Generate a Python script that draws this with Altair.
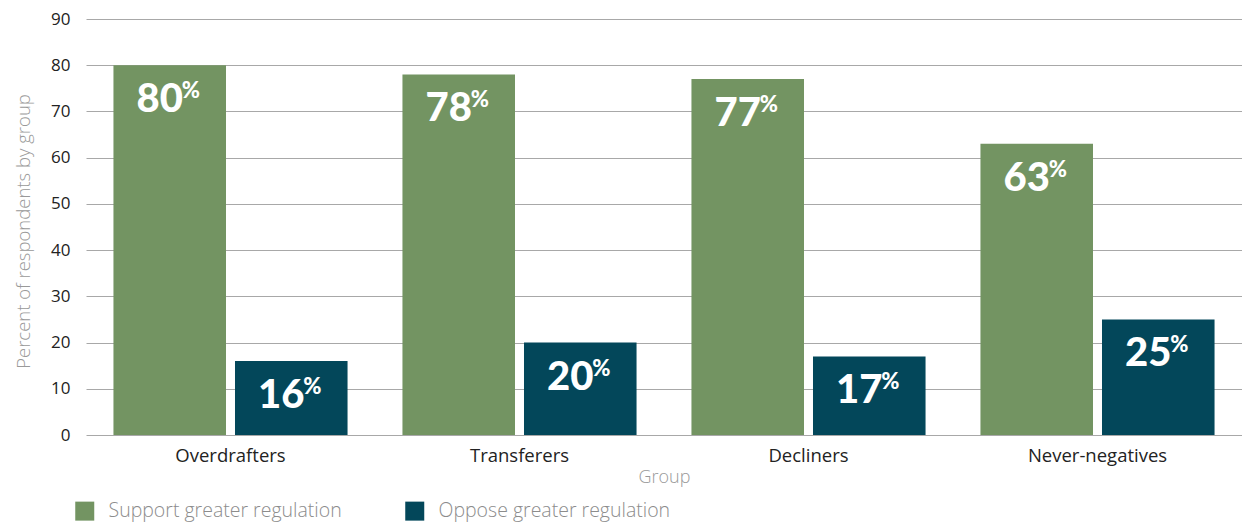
import altair as alt
import pandas as pd

groups = ["Overdrafters", "Transferers", "Decliners", "Never-negatives"]
series = ["Support greater regulation", "Oppose greater regulation"]
support = [80, 78, 77, 63]
oppose = [16, 20, 17, 25]
colors = ["#739462", "#03475A"]
y_ticks = [0, 10, 20, 30, 40, 50, 60, 70, 80, 90]

rows = []
for g, s, o in zip(groups, support, oppose):
    rows.append({"group": g, "series": series[0], "value": s, "label": str(s)})
    rows.append({"group": g, "series": series[1], "value": o, "label": str(o)})
df = pd.DataFrame(rows)

FONT = "Open Sans"
NUMFONT = "Lato"

x = alt.X(
    "group:N",
    sort=groups,
    scale=alt.Scale(paddingInner=0.19, paddingOuter=0.095),
    axis=alt.Axis(
        title="Group", labelAngle=0, labelFontSize=18.5, labelColor="#222222",
        labelFontWeight="normal",
        labelPadding=11, labelFont=FONT, titleFont=FONT, titleFontSize=18,
        titleColor="#999999", titleFontWeight=300, titleY=42,
        titleBaseline="middle", domain=False, ticks=False, grid=False,
    ),
)
xo = alt.XOffset("series:N", sort=series,
                 scale=alt.Scale(paddingInner=0.074, paddingOuter=0))
y = alt.Y(
    "value:Q",
    scale=alt.Scale(domain=[0, 90], nice=False),
    axis=alt.Axis(
        values=y_ticks, title="Percent of respondents by group",
        labelFontSize=17, labelColor="#222222", labelFont=FONT, labelPadding=16,
        labelFontWeight="normal",
        titleFont=FONT, titleFontSize=18.5, titleColor="#999999",
        titleFontWeight=300, titleX=-63, titleY=212, titleAngle=-90,
        titleAlign="center", titleBaseline="middle",
        domain=False, ticks=False, grid=True, gridColor="#a8a8a8", gridWidth=1,
    ),
)

color = alt.Color(
    "series:N", sort=series,
    scale=alt.Scale(domain=series, range=colors),
    legend=alt.Legend(
        orient="none", legendX=-11, legendY=482, direction="horizontal",
        title=None, symbolType="square", symbolSize=361, symbolStrokeWidth=0,
        labelFontSize=19.5, labelColor="#8c8c8c", labelFont=FONT,
        labelFontWeight=300, columnPadding=63, labelOffset=14, labelLimit=400,
    ),
)

base = alt.Chart(df)
bars = base.mark_bar().encode(x=x, xOffset=xo, y=y, color=color)

num = base.mark_text(
    align="center", baseline="middle", dx=-10, dy=35, fontSize=40,
    fontWeight=900, color="white", font=NUMFONT,
).encode(x=alt.X("group:N", sort=groups), xOffset=alt.XOffset("series:N", sort=series),
         y="value:Q", text="label:N")

pct = base.mark_text(
    align="left", baseline="middle", dx=12, dy=26, fontSize=22,
    fontWeight=900, color="white", font=NUMFONT,
).encode(x=alt.X("group:N", sort=groups), xOffset=alt.XOffset("series:N", sort=series),
         y="value:Q", text=alt.value("%"))

chart = (
    alt.layer(bars, num, pct)
    .properties(
        width=1156, height=416,
        padding={"left": 78, "top": 11, "right": 0, "bottom": 88},
        autosize=alt.AutoSizeParams(type="none"),
    )
    .configure_view(stroke=None)
)

chart.save("out.html", embed_options={"renderer": "svg", "actions": False})
